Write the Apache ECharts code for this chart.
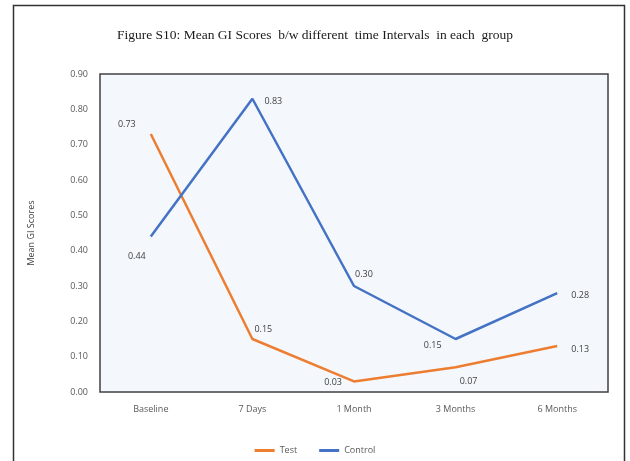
<!DOCTYPE html>
<html>
<head>
<meta charset="utf-8">
<script src="https://cdn.jsdelivr.net/npm/echarts@6/dist/echarts.min.js"></script>
<style>
html,body{margin:0;padding:0;background:#fff;}
#chart{width:630px;height:461px;}
</style>
</head>
<body>
<div id="chart"></div>
<script>
// Time points and mean GI scores per group
const categories = ['Baseline', '7 Days', '1 Month', '3 Months', '6 Months'];
const testScores = [0.73, 0.15, 0.03, 0.07, 0.13];
const controlScores = [0.44, 0.83, 0.30, 0.15, 0.28];
const yTicks = [0, 0.1, 0.2, 0.3, 0.4, 0.5, 0.6, 0.7, 0.8, 0.9];

// Where each value label sits relative to its point
const testLabelPlace = [
  { position: 'top', offset: [-24, 0] },
  { position: 'right', offset: [-3, -10] },
  { position: 'left', offset: [-7, 1] },
  { position: 'bottom', offset: [13, 5] },
  { position: 'right', offset: [9, 3] }
];
const controlLabelPlace = [
  { position: 'bottom', offset: [-14, 10] },
  { position: 'right', offset: [7, 3] },
  { position: 'top', offset: [10, -2] },
  { position: 'left', offset: [-9, 6] },
  { position: 'right', offset: [9, 2] }
];

function withLabels(values, places) {
  return values.map((v, i) => ({
    value: v,
    label: { position: places[i].position, offset: places[i].offset }
  }));
}

const chart = echarts.init(document.getElementById('chart'), null, { renderer: 'canvas' });

const labelStyle = {
  show: true,
  color: '#404040',
  fontSize: 9,
  fontFamily: 'Open Sans, sans-serif',
  formatter: p => p.value.toFixed(2)
};

chart.setOption({
  animation: false,
  backgroundColor: '#ffffff',
  graphic: [{
    type: 'rect',
    shape: { x: 13.5, y: 5.5, width: 611, height: 470 },
    style: { fill: 'none', stroke: '#333333', lineWidth: 1.5 },
    silent: true
  }],
  title: {
    text: 'Figure S10: Mean GI Scores  b/w different  time Intervals  in each  group',
    left: 'center',
    top: 23,
    textStyle: {
      fontFamily: 'Liberation Serif, serif',
      fontWeight: 'normal',
      fontSize: 13.5,
      color: '#1a1a1a'
    }
  },
  legend: {
    bottom: 1,
    left: 'center',
    itemWidth: 20,
    itemHeight: 3,
    itemGap: 22,
    icon: 'rect',
    textStyle: { color: '#595959', fontSize: 9, fontFamily: 'Open Sans, sans-serif' },
    data: ['Test', 'Control']
  },
  grid: {
    left: 100,
    right: 22,
    top: 74,
    bottom: 69,
    show: true,
    backgroundColor: '#f4f8fc',
    borderColor: '#404040',
    borderWidth: 1.5
  },
  xAxis: {
    type: 'category',
    data: categories,
    boundaryGap: true,
    axisLine: { show: false },
    axisTick: { show: false },
    axisLabel: { color: '#595959', fontSize: 9, margin: 13, fontFamily: 'Open Sans, sans-serif' }
  },
  yAxis: {
    type: 'value',
    min: yTicks[0],
    max: yTicks[yTicks.length - 1],
    interval: 0.1,
    name: 'Mean GI Scores',
    nameLocation: 'middle',
    nameGap: 64,
    nameRotate: 90,
    nameTextStyle: { color: '#404040', fontSize: 9, fontFamily: 'Open Sans, sans-serif' },
    axisLine: { show: false },
    axisTick: { show: false },
    splitLine: { show: false },
    axisLabel: {
      color: '#595959',
      fontSize: 9,
      margin: 12,
      fontFamily: 'Open Sans, sans-serif',
      formatter: v => v.toFixed(2)
    }
  },
  series: [
    {
      name: 'Test',
      type: 'line',
      data: withLabels(testScores, testLabelPlace),
      showSymbol: true,
      symbol: 'circle',
      symbolSize: 0.1,
      color: '#ED7D31',
      lineStyle: { color: '#ED7D31', width: 2.5 },
      label: labelStyle
    },
    {
      name: 'Control',
      type: 'line',
      data: withLabels(controlScores, controlLabelPlace),
      showSymbol: true,
      symbol: 'circle',
      symbolSize: 0.1,
      color: '#4472C4',
      lineStyle: { color: '#4472C4', width: 2.5 },
      label: labelStyle
    }
  ]
});
</script>
</body>
</html>
